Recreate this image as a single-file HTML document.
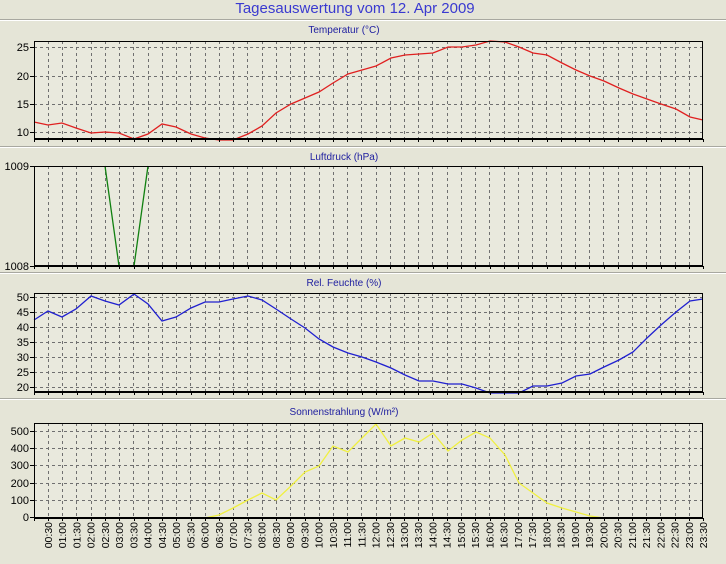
<!DOCTYPE html>
<html><head><meta charset="utf-8"><style>
html,body{margin:0;padding:0;background:#e5e5d7;}
svg{display:block;font-family:"Liberation Sans",sans-serif;}
</style></head><body>
<svg id="s" width="726" height="564" xmlns="http://www.w3.org/2000/svg">
<rect width="726" height="564" fill="#e5e5d7"/>
<text x="355" y="13" font-size="15" fill="#3a3ad0" text-anchor="middle">Tagesauswertung vom 12. Apr 2009</text>
<text x="344" y="33" font-size="10" fill="#2020a0" text-anchor="middle">Temperatur (°C)</text>
<text x="344" y="160" font-size="10" fill="#2020a0" text-anchor="middle">Luftdruck (hPa)</text>
<text x="344" y="286" font-size="10" fill="#2020a0" text-anchor="middle">Rel. Feuchte (%)</text>
<text x="344" y="415" font-size="10" fill="#2020a0" text-anchor="middle">Sonnenstrahlung (W/m²)</text>
<g id="g"></g>
</svg>
<script>
var NS="http://www.w3.org/2000/svg",g=document.getElementById('g');
function el(t,a,txt){var e=document.createElementNS(NS,t);for(var k in a)e.setAttribute(k,a[k]);if(txt!=null)e.textContent=txt;g.appendChild(e);return e;}
[19,146,272,398].forEach(function(y){el('line',{x1:0,x2:726,y1:y+.5,y2:y+.5,stroke:'#a8a8a0'});el('line',{x1:0,x2:726,y1:y+1.5,y2:y+1.5,stroke:'#fff'});});
var X0=34,X1=703,sp=14.24;
var panels=[
 {t:41,b:139,ticks:[[25,47],[20,76],[15,104],[10,132]],col:'#e02020',pts:[34,122,48,125,62,123,76,128,91,133,105,132,119,133,134,139,148,134,162,124,176,127,191,134,205,138,219,140,233,140,248,134,262,126,276,113,291,104,305,98,319,92,333,83,348,74,362,70,376,66,391,58,405,55,419,54,433,53,448,47,462,47,476,45,490,41,505,42,519,47,533,53,547,55,562,63,576,70,590,76,604,81,619,88,633,94,647,99,661,104,676,109,690,117,703,120]},
 {t:166,b:266,ticks:[[1009,166],[1008,266]],col:'#108010',pts:[105,166,119,266,134,266,148,166]},
 {t:293,b:392,ticks:[[50,297],[45,312],[40,327],[35,342],[30,357],[25,372],[20,387]],col:'#2020d0',pts:[34,320,48,311,62,317,76,309,91,296,105,301,119,305,134,294,148,304,162,321,176,317,191,308,205,302,219,302,233,299,248,296,262,300,276,309,291,319,305,328,319,339,333,347,348,353,362,357,376,362,391,368,405,375,419,381,433,381,448,384,462,384,476,388,490,393,505,393,519,393,533,386,547,386,562,383,576,376,590,374,604,367,619,360,633,352,647,338,661,325,676,312,690,301,703,299]},
 {t:423,b:518,ticks:[[500,431],[400,448],[300,465],[200,483],[100,500],[0,517]],col:'#f0f040',pts:[205,518,219,515,233,508,248,500,262,493,276,500,291,486,305,472,319,466,333,446,348,452,362,438,376,424,391,446,405,438,419,442,433,433,448,451,462,440,476,432,490,438,505,455,519,483,533,493,547,503,562,508,576,512,590,516,604,518]}
];
panels.forEach(function(p){
 el('rect',{x:X0,y:p.t,width:X1-X0,height:p.b-p.t,fill:'#e9e9dd'});
 for(var i=1;i<=46;i++){var x=Math.round(X0+14+(i-1)*sp)+.5;el('line',{x1:x,x2:x,y1:p.t,y2:p.b,stroke:'#707070','stroke-dasharray':'3,3'});}
 p.ticks.forEach(function(tk){el('line',{x1:X0,x2:X1,y1:tk[1]+.5,y2:tk[1]+.5,stroke:'#707070','stroke-dasharray':'3,3'});
  el('line',{x1:X0-4,x2:X0,y1:tk[1]+.5,y2:tk[1]+.5,stroke:'#000'});
  el('text',{x:X0-5,y:tk[1]+4,'font-size':'11','text-anchor':'end',fill:'#000'},tk[0]);});
 var d='';for(var j=0;j<p.pts.length;j+=2)d+=(j?'L':'M')+p.pts[j]+','+p.pts[j+1];
 el('path',{d:d,fill:'none',stroke:p.col,'stroke-width':1.3});
 el('rect',{x:X0+.5,y:p.t+.5,width:X1-X0-1,height:p.b-p.t-1,fill:'none',stroke:'#000'});
 el('line',{x1:X0,x2:X1,y1:p.b,y2:p.b,stroke:'#000','stroke-width':2});
 for(var i=0;i<=47;i++){var x=Math.round(X0+i*sp)+.5;el('line',{x1:x,x2:x,y1:p.b,y2:p.b+3,stroke:'#000'});}
});
for(var i=1;i<=47;i++){var h=Math.floor(i/2),m=i%2?'30':'00';var lab=(h<10?'0':'')+h+':'+m;
 var x=X0+14+(i-1)*sp+4;el('text',{x:x,y:522,'font-size':'10.5','text-anchor':'end',fill:'#000',transform:'rotate(-90 '+x+' 522)'},lab);}
</script>
</body></html>
